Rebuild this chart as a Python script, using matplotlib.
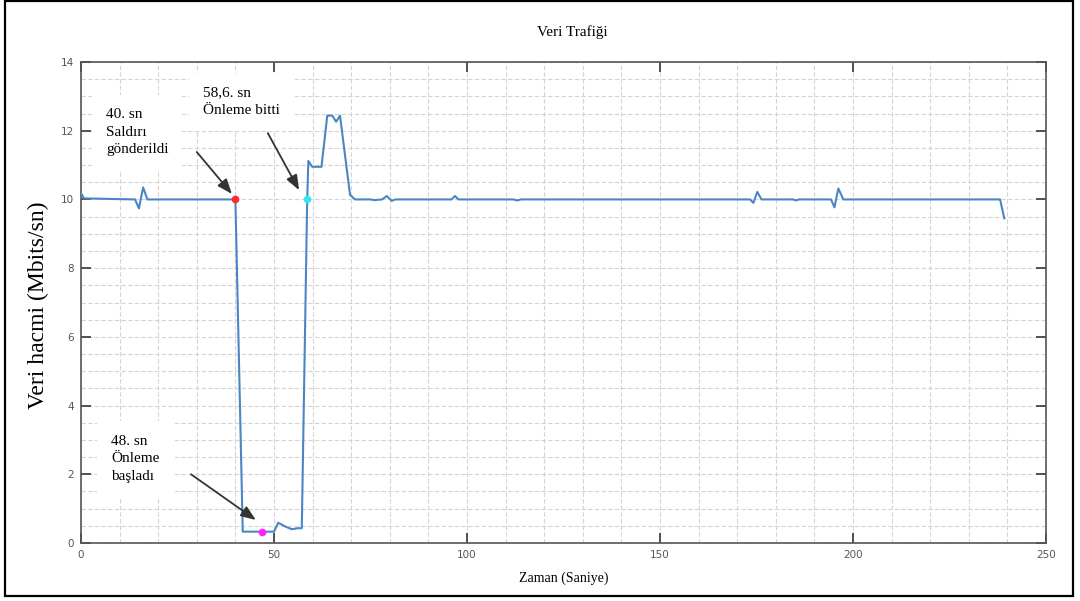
import matplotlib
matplotlib.use("Agg")
import matplotlib.pyplot as plt
from matplotlib.patches import Rectangle
from matplotlib.ticker import MultipleLocator

# ---- data ----
time_s = [0, 0.8, 14, 15, 16.1, 17.2, 40.0, 41.9, 50, 51.1, 52.7, 54.6, 56.1, 57.2,
          58.6, 58.9, 59.9, 62.3, 63.8, 65.1, 66.1, 67.1, 69.7, 71, 75, 76, 78,
          79.2, 80.5, 81.5, 96, 96.9, 97.8, 112, 113, 114, 173.3, 174.2, 175.2,
          176.3, 184.5, 185.2, 186, 194.3, 195.2, 196.2, 197.5, 238.1, 239.2]
traffic = [10.18, 10.03, 10.0, 9.74, 10.35, 10.0, 10.0, 0.33, 0.33, 0.59, 0.49,
           0.40, 0.43, 0.43, 10.0, 11.12, 10.95, 10.95, 12.44, 12.44, 12.26, 12.44,
           10.13, 10.0, 10.0, 9.98, 10.0, 10.1, 9.96, 10.0, 10.0, 10.1, 10.0, 10.0,
           9.97, 10.0, 10.0, 9.9, 10.22, 10.0, 10.0, 9.97, 10.0, 10.0, 9.77, 10.32,
           10.0, 10.0, 9.45]

attack_pt = (40.0, 10.0)
mitig_start_pt = (47.0, 0.32)
mitig_end_pt = (58.6, 10.0)

title = "Veri Trafiği"
xlabel = "Zaman (Saniye)"
ylabel = "Veri hacmi (Mbits/sn)"
note_attack = "40. sn\nSaldırı\ngönderildi"
note_end = "58,6. sn\nÖnleme bitti"
note_start = "48. sn\nÖnleme\nbaşladı"

serif = ["Liberation Serif", "DejaVu Serif"]

fig = plt.figure(figsize=(10.8, 6.01), dpi=100)
ax = fig.add_axes([81 / 1080, 1 - 543 / 601, (1046 - 81) / 1080, (543 - 62) / 601])

ax.plot(time_s, traffic, color="#4a86c6", lw=1.5, zorder=3)
ax.plot(*attack_pt, "o", color="#ff2a2a", ms=4.5, zorder=4)
ax.plot(*mitig_end_pt, "o", color="#33e6f2", ms=4.5, zorder=4)
ax.plot(*mitig_start_pt, "o", color="#ff22ff", ms=4.5, zorder=4)

ax.set_xlim(0, 250)
ax.set_ylim(0, 14)
ax.xaxis.set_major_locator(MultipleLocator(50))
ax.yaxis.set_major_locator(MultipleLocator(2))
ax.xaxis.set_minor_locator(MultipleLocator(10))
ax.yaxis.set_minor_locator(MultipleLocator(0.5))
ax.grid(which="both", color="#d4d4d4", lw=0.8, ls=(0, (4, 2)), zorder=0)
ax.tick_params(which="major", direction="in", length=7, width=1.3, color="#444444",
               top=True, right=True, labelsize=7.5, labelcolor="#555555", pad=5)
ax.tick_params(which="minor", length=0)
for s in ax.spines.values():
    s.set_color("#555555")
    s.set_linewidth(1.2)

bbox = dict(boxstyle="square,pad=0.9", fc="white", ec="none")
ax.text(6.5, 11.95, note_attack, family=serif, fontsize=11, va="center", ha="left",
        linespacing=1.45, bbox=bbox, zorder=2)
ax.text(31.5, 12.85, note_end, family=serif, fontsize=11, va="center", ha="left",
        linespacing=1.45, bbox=bbox, zorder=2)
ax.text(7.8, 2.45, note_start, family=serif, fontsize=11, va="center", ha="left",
        linespacing=1.45, bbox=bbox, zorder=2)

arrowprops = dict(arrowstyle="-|>,head_length=0.9,head_width=0.35", color="#333333",
                  lw=1.3, shrinkA=0, shrinkB=0)
ax.annotate("", xy=(39.1, 10.16), xytext=(30.0, 11.38), arrowprops=arrowprops, zorder=5)
ax.annotate("", xy=(56.5, 10.27), xytext=(48.4, 11.93), arrowprops=arrowprops, zorder=5)
ax.annotate("", xy=(45.3, 0.67), xytext=(28.5, 2.0), arrowprops=arrowprops, zorder=5)

fig.text(572 / 1080, 1 - 32 / 601, title, family=serif, fontsize=11, ha="center", va="center")
fig.text(564 / 1080, 1 - 578 / 601, xlabel, family=serif, fontsize=10, ha="center", va="center")
fig.text(38 / 1080, 1 - 305 / 601, ylabel, family=serif, fontsize=17, ha="center",
         va="center", rotation=90)

fig.patches.append(Rectangle((5 / 1080, 5 / 601), 1068 / 1080, 595 / 601,
                             transform=fig.transFigure, fill=False, ec="black", lw=1.6))

fig.savefig("out.png", dpi=100)
